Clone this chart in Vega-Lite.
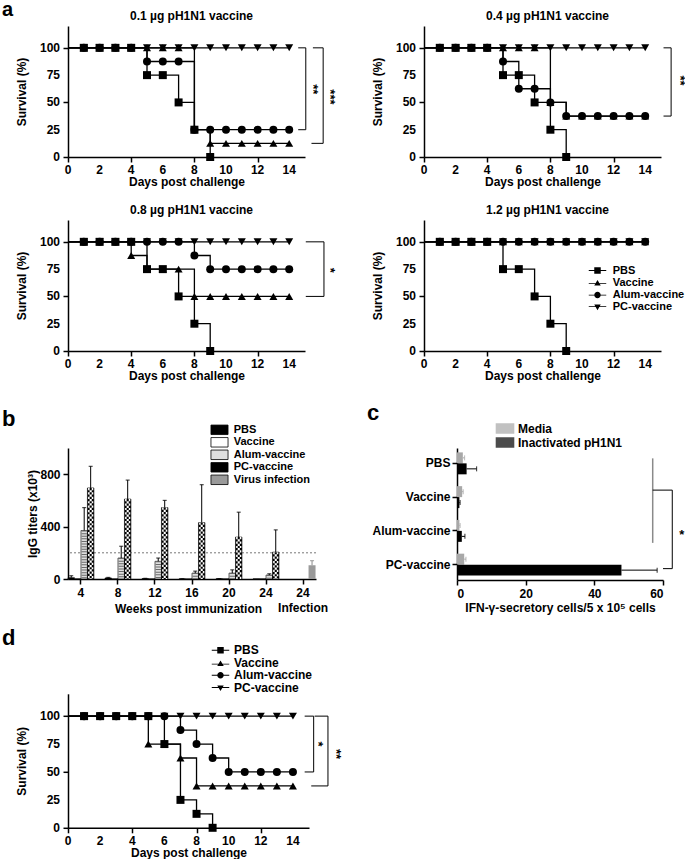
{
"$schema":"https://vega.github.io/schema/vega-lite/v6.json",
"padding":{"left":2,"top":0,"right":0,"bottom":0},
"background":"white",
"config":{
 "font":"Liberation Sans",
 "view":{"stroke":null},
 "axis":{"grid":false,"domainColor":"black","domainWidth":1.5,"tickColor":"black","tickWidth":1.5,"tickSize":5,"labelColor":"black","labelFontSize":12,"labelFontWeight":"bold","labelPadding":3,"labelOverlap":false,"titleColor":"black","titleFontSize":12,"titleFontWeight":"bold","labelFont":"Liberation Sans","titleFont":"Liberation Sans"},
 "title":{"fontSize":12,"fontWeight":"bold","color":"black","font":"Liberation Sans"},
 "legend":{"labelFontSize":11,"labelFontWeight":"bold","labelColor":"black","labelFont":"Liberation Sans","padding":0,"labelBaseline":"middle"}
},
"datasets":{
 "surv":[
  {"p":"a1","g":"PC-vaccine","d":[0,1,2,3,4,5,6,7,8,9,10,11,12,13,14],"s":[100,100,100,100,100,100,100,100,100,100,100,100,100,100,100]},
  {"p":"a1","g":"Alum-vaccine","d":[0,1,2,3,4,5,6,7,8,9,10,11,12,13,14],"s":[100,100,100,100,100,87.5,87.5,87.5,25,25,25,25,25,25,25]},
  {"p":"a1","g":"Vaccine","d":[0,1,2,3,4,5,6,7,8,9,10,11,12,13,14],"s":[100,100,100,100,100,100,100,100,25,12.5,12.5,12.5,12.5,12.5,12.5]},
  {"p":"a1","g":"PBS","d":[0,1,2,3,4,5,6,7,8,9],"s":[100,100,100,100,100,75,75,50,25,0]},
  {"p":"a2","g":"PC-vaccine","d":[0,1,2,3,4,5,6,7,8,9,10,11,12,13,14],"s":[100,100,100,100,100,100,100,100,100,100,100,100,100,100,100]},
  {"p":"a2","g":"Alum-vaccine","d":[0,1,2,3,4,5,6,7,8,9,10,11,12,13,14],"s":[100,100,100,100,100,87.5,62.5,62.5,50,37.5,37.5,37.5,37.5,37.5,37.5]},
  {"p":"a2","g":"Vaccine","d":[0,1,2,3,4,5,6,7,8,9,10,11,12,13,14],"s":[100,100,100,100,100,100,100,100,50,37.5,37.5,37.5,37.5,37.5,37.5]},
  {"p":"a2","g":"PBS","d":[0,1,2,3,4,5,6,7,8,9],"s":[100,100,100,100,100,75,75,50,25,0]},
  {"p":"a3","g":"PC-vaccine","d":[0,1,2,3,4,5,6,7,8,9,10,11,12,13,14],"s":[100,100,100,100,100,100,100,100,100,100,100,100,100,100,100]},
  {"p":"a3","g":"Alum-vaccine","d":[0,1,2,3,4,5,6,7,8,9,10,11,12,13,14],"s":[100,100,100,100,100,100,100,100,87.5,75,75,75,75,75,75]},
  {"p":"a3","g":"Vaccine","d":[0,1,2,3,4,5,6,7,8,9,10,11,12,13,14],"s":[100,100,100,100,87.5,75,75,75,50,50,50,50,50,50,50]},
  {"p":"a3","g":"PBS","d":[0,1,2,3,4,5,6,7,8,9],"s":[100,100,100,100,100,75,75,50,25,0]},
  {"p":"a4","g":"PC-vaccine","d":[0,1,2,3,4,5,6,7,8,9,10,11,12,13,14],"s":[100,100,100,100,100,100,100,100,100,100,100,100,100,100,100]},
  {"p":"a4","g":"Alum-vaccine","d":[0,1,2,3,4,5,6,7,8,9,10,11,12,13,14],"s":[100,100,100,100,100,100,100,100,100,100,100,100,100,100,100]},
  {"p":"a4","g":"Vaccine","d":[0,1,2,3,4,5,6,7,8,9,10,11,12,13,14],"s":[100,100,100,100,100,100,100,100,100,100,100,100,100,100,100]},
  {"p":"a4","g":"PBS","d":[0,1,2,3,4,5,6,7,8,9],"s":[100,100,100,100,100,75,75,50,25,0]},
  {"p":"d","g":"PC-vaccine","d":[0,1,2,3,4,5,6,7,8,9,10,11,12,13,14],"s":[100,100,100,100,100,100,100,100,100,100,100,100,100,100,100]},
  {"p":"d","g":"Alum-vaccine","d":[0,1,2,3,4,5,6,7,8,9,10,11,12,13,14],"s":[100,100,100,100,100,100,100,87.5,75,62.5,50,50,50,50,50]},
  {"p":"d","g":"Vaccine","d":[0,1,2,3,4,5,6,7,8,9,10,11,12,13,14],"s":[100,100,100,100,100,75,75,62.5,37.5,37.5,37.5,37.5,37.5,37.5,37.5]},
  {"p":"d","g":"PBS","d":[0,1,2,3,4,5,6,7,8,9],"s":[100,100,100,100,100,100,75,25,12.5,0]}
 ],
 "br":[
  {"p":"a1","x1":14.57,"x2":15.05,"y1":100,"y2":100},
  {"p":"a1","x1":15.05,"x2":15.05,"y1":100,"y2":25},
  {"p":"a1","x1":14.57,"x2":15.05,"y1":25,"y2":25},
  {"p":"a1","x1":15.5,"x2":16.15,"y1":100,"y2":100},
  {"p":"a1","x1":16.15,"x2":16.15,"y1":100,"y2":12.5},
  {"p":"a1","x1":15.41,"x2":16.15,"y1":12.5,"y2":12.5},
  {"p":"a2","x1":15.16,"x2":15.64,"y1":100,"y2":100},
  {"p":"a2","x1":15.64,"x2":15.64,"y1":100,"y2":37.5},
  {"p":"a2","x1":15.16,"x2":15.64,"y1":37.5,"y2":37.5},
  {"p":"a3","x1":15.05,"x2":16.2,"y1":100,"y2":100},
  {"p":"a3","x1":16.2,"x2":16.2,"y1":100,"y2":50},
  {"p":"a3","x1":15.05,"x2":16.2,"y1":50,"y2":50},
  {"p":"d","x1":14.73,"x2":15.29,"y1":100,"y2":100},
  {"p":"d","x1":15.29,"x2":15.29,"y1":100,"y2":50},
  {"p":"d","x1":14.73,"x2":15.29,"y1":50,"y2":50},
  {"p":"d","x1":15.35,"x2":16.18,"y1":100,"y2":100},
  {"p":"d","x1":16.18,"x2":16.18,"y1":100,"y2":37.5},
  {"p":"d","x1":15.14,"x2":16.18,"y1":37.5,"y2":37.5}
 ],
 "st":[
  {"p":"a1","x":15.52,"y":62,"t":"**"},
  {"p":"a1","x":16.6,"y":55,"t":"***"},
  {"p":"a2","x":16.2,"y":70,"t":"**"},
  {"p":"a3","x":16.57,"y":74,"t":"*"},
  {"p":"d","x":15.56,"y":75,"t":"*"},
  {"p":"d","x":16.7,"y":66,"t":"**"}
 ],
 "xt":[{"t":0},{"t":2},{"t":4},{"t":6},{"t":8},{"t":10},{"t":12},{"t":14}],
 "yt":[{"t":0},{"t":25},{"t":50},{"t":75},{"t":100}],
 "bt":[
  {"w":"4","g":"PBS","v":10,"hi":25},{"w":"4","g":"Vaccine","v":2,"hi":2},{"w":"4","g":"Alum-vaccine","v":370,"hi":545},{"w":"4","g":"PC-vaccine","v":695,"hi":860},
  {"w":"8","g":"PBS","v":8,"hi":12},{"w":"8","g":"Vaccine","v":1,"hi":1},{"w":"8","g":"Alum-vaccine","v":160,"hi":250},{"w":"8","g":"PC-vaccine","v":610,"hi":755},
  {"w":"12","g":"PBS","v":3,"hi":5},{"w":"12","g":"Vaccine","v":1,"hi":1},{"w":"12","g":"Alum-vaccine","v":135,"hi":160},{"w":"12","g":"PC-vaccine","v":545,"hi":600},
  {"w":"16","g":"PBS","v":1,"hi":2},{"w":"16","g":"Vaccine","v":0,"hi":0},{"w":"16","g":"Alum-vaccine","v":45,"hi":60},{"w":"16","g":"PC-vaccine","v":430,"hi":720},
  {"w":"20","g":"PBS","v":2,"hi":3},{"w":"20","g":"Vaccine","v":1,"hi":1},{"w":"20","g":"Alum-vaccine","v":45,"hi":70},{"w":"20","g":"PC-vaccine","v":320,"hi":510},
  {"w":"24","g":"PBS","v":1,"hi":1},{"w":"24","g":"Vaccine","v":1,"hi":1},{"w":"24","g":"Alum-vaccine","v":30,"hi":40},{"w":"24","g":"PC-vaccine","v":205,"hi":375},
  {"w":"inf","g":"Virus infection","v":105,"hi":140}
 ],
 "ct":[
  {"g":"PBS","s":"Media","v":1.7,"hi":2.2},{"g":"PBS","s":"Inactivated pH1N1","v":2.8,"hi":5.7},
  {"g":"Vaccine","s":"Media","v":1.5,"hi":1.8},{"g":"Vaccine","s":"Inactivated pH1N1","v":0.7,"hi":0.9},
  {"g":"Alum-vaccine","s":"Media","v":0.7,"hi":0.9},{"g":"Alum-vaccine","s":"Inactivated pH1N1","v":1.4,"hi":2.3},
  {"g":"PC-vaccine","s":"Media","v":2.1,"hi":2.6},{"g":"PC-vaccine","s":"Inactivated pH1N1","v":47.9,"hi":58.3}
 ]
},
"bounds":"full",
"spacing":19,
"resolve":{"scale":{"fill":"independent","color":"independent","shape":"independent"}},
"vconcat":[
 {"bounds":"flush","columns":2,"spacing":{"row":63,"column":119},
  "resolve":{"scale":{"fill":"independent","color":"independent","shape":"independent"}},
  "title":{"text":"a","anchor":"start","frame":"group","dx":-66,"fontSize":20,"offset":-26.4,"baseline":"alphabetic"},
  "concat":[
   {"width":237,"height":131,
    "title":{"text":"0.1 µg pH1N1 vaccine","anchor":"middle","frame":"group","dx":5,"offset":3},
    "layer":[
     {"data":{"name":"surv"},"transform":[{"filter":"datum.p=='a1'"},{"flatten":["d","s"]}],
      "mark":{"type":"line","interpolate":"step-after","color":"black","strokeWidth":1.3},
      "encoding":{"x":{"field":"d","type":"quantitative","scale":{"domain":[0,15]},"axis":{"values":[0,2,4,6,8,10,12,14],"labels":false,"title":"Days post challenge","titlePadding":14}},
       "y":{"field":"s","type":"quantitative","scale":{"domain":[0,120]},"axis":{"values":[0,25,50,75,100],"labels":false,"title":"Survival (%)","titlePadding":34}},
       "detail":{"field":"g","type":"nominal"}}},
     {"data":{"name":"xt"},"mark":{"type":"text","color":"black","fontWeight":"bold","fontSize":12,"align":"center","baseline":"top","dy":8},
      "encoding":{"x":{"field":"t","type":"quantitative","scale":{"domain":[0,15]}},"y":{"datum":0,"type":"quantitative","scale":{"domain":[0,120]}},"text":{"field":"t","type":"quantitative"}}},
     {"data":{"name":"yt"},"mark":{"type":"text","color":"black","fontWeight":"bold","fontSize":12,"align":"right","baseline":"middle","dx":-8},
      "encoding":{"y":{"field":"t","type":"quantitative","scale":{"domain":[0,120]}},"x":{"datum":0,"type":"quantitative","scale":{"domain":[0,15]}},"text":{"field":"t","type":"quantitative"}}},
     {"data":{"name":"surv"},"transform":[{"filter":"datum.p=='a1'"},{"flatten":["d","s"]},{"filter":"datum.d>=1"}],
      "mark":{"type":"point","filled":true,"color":"black","size":64,"opacity":1},
      "encoding":{"x":{"field":"d","type":"quantitative","scale":{"domain":[0,15]}},"y":{"field":"s","type":"quantitative","scale":{"domain":[0,120]}},
       "shape":{"field":"g","type":"nominal","scale":{"domain":["PBS","Vaccine","Alum-vaccine","PC-vaccine"],"range":["square","triangle-up","circle","triangle-down"]},"legend":null}}},
     {"data":{"name":"br"},"transform":[{"filter":"datum.p=='a1'"}],"mark":{"type":"rule","color":"black","strokeWidth":1},
      "encoding":{"x":{"field":"x1","type":"quantitative","scale":{"domain":[0,15]}},"x2":{"field":"x2"},"y":{"field":"y1","type":"quantitative","scale":{"domain":[0,120]}},"y2":{"field":"y2"}}},
     {"data":{"name":"st"},"transform":[{"filter":"datum.p=='a1'"}],"mark":{"type":"text","color":"black","angle":90,"fontWeight":"bold","fontSize":13,"align":"center","baseline":"middle"},
      "encoding":{"x":{"field":"x","type":"quantitative","scale":{"domain":[0,15]}},"y":{"field":"y","type":"quantitative","scale":{"domain":[0,120]}},"text":{"field":"t","type":"nominal"}}}
    ]},
   {"width":237,"height":131,
    "title":{"text":"0.4 µg pH1N1 vaccine","anchor":"middle","frame":"group","dx":5,"offset":3},
    "layer":[
     {"data":{"name":"surv"},"transform":[{"filter":"datum.p=='a2'"},{"flatten":["d","s"]}],
      "mark":{"type":"line","interpolate":"step-after","color":"black","strokeWidth":1.3},
      "encoding":{"x":{"field":"d","type":"quantitative","scale":{"domain":[0,15]},"axis":{"values":[0,2,4,6,8,10,12,14],"labels":false,"title":"Days post challenge","titlePadding":14}},
       "y":{"field":"s","type":"quantitative","scale":{"domain":[0,120]},"axis":{"values":[0,25,50,75,100],"labels":false,"title":"Survival (%)","titlePadding":34}},
       "detail":{"field":"g","type":"nominal"}}},
     {"data":{"name":"xt"},"mark":{"type":"text","color":"black","fontWeight":"bold","fontSize":12,"align":"center","baseline":"top","dy":8},
      "encoding":{"x":{"field":"t","type":"quantitative","scale":{"domain":[0,15]}},"y":{"datum":0,"type":"quantitative","scale":{"domain":[0,120]}},"text":{"field":"t","type":"quantitative"}}},
     {"data":{"name":"yt"},"mark":{"type":"text","color":"black","fontWeight":"bold","fontSize":12,"align":"right","baseline":"middle","dx":-8},
      "encoding":{"y":{"field":"t","type":"quantitative","scale":{"domain":[0,120]}},"x":{"datum":0,"type":"quantitative","scale":{"domain":[0,15]}},"text":{"field":"t","type":"quantitative"}}},
     {"data":{"name":"surv"},"transform":[{"filter":"datum.p=='a2'"},{"flatten":["d","s"]},{"filter":"datum.d>=1"}],
      "mark":{"type":"point","filled":true,"color":"black","size":64,"opacity":1},
      "encoding":{"x":{"field":"d","type":"quantitative","scale":{"domain":[0,15]}},"y":{"field":"s","type":"quantitative","scale":{"domain":[0,120]}},
       "shape":{"field":"g","type":"nominal","scale":{"domain":["PBS","Vaccine","Alum-vaccine","PC-vaccine"],"range":["square","triangle-up","circle","triangle-down"]},"legend":null}}},
     {"data":{"name":"br"},"transform":[{"filter":"datum.p=='a2'"}],"mark":{"type":"rule","color":"black","strokeWidth":1},
      "encoding":{"x":{"field":"x1","type":"quantitative","scale":{"domain":[0,15]}},"x2":{"field":"x2"},"y":{"field":"y1","type":"quantitative","scale":{"domain":[0,120]}},"y2":{"field":"y2"}}},
     {"data":{"name":"st"},"transform":[{"filter":"datum.p=='a2'"}],"mark":{"type":"text","color":"black","angle":90,"fontWeight":"bold","fontSize":13,"align":"center","baseline":"middle"},
      "encoding":{"x":{"field":"x","type":"quantitative","scale":{"domain":[0,15]}},"y":{"field":"y","type":"quantitative","scale":{"domain":[0,120]}},"text":{"field":"t","type":"nominal"}}}
    ]},
   {"width":237,"height":131,
    "title":{"text":"0.8 µg pH1N1 vaccine","anchor":"middle","frame":"group","dx":5,"offset":3},
    "layer":[
     {"data":{"name":"surv"},"transform":[{"filter":"datum.p=='a3'"},{"flatten":["d","s"]}],
      "mark":{"type":"line","interpolate":"step-after","color":"black","strokeWidth":1.3},
      "encoding":{"x":{"field":"d","type":"quantitative","scale":{"domain":[0,15]},"axis":{"values":[0,2,4,6,8,10,12,14],"labels":false,"title":"Days post challenge","titlePadding":14}},
       "y":{"field":"s","type":"quantitative","scale":{"domain":[0,120]},"axis":{"values":[0,25,50,75,100],"labels":false,"title":"Survival (%)","titlePadding":34}},
       "detail":{"field":"g","type":"nominal"}}},
     {"data":{"name":"xt"},"mark":{"type":"text","color":"black","fontWeight":"bold","fontSize":12,"align":"center","baseline":"top","dy":8},
      "encoding":{"x":{"field":"t","type":"quantitative","scale":{"domain":[0,15]}},"y":{"datum":0,"type":"quantitative","scale":{"domain":[0,120]}},"text":{"field":"t","type":"quantitative"}}},
     {"data":{"name":"yt"},"mark":{"type":"text","color":"black","fontWeight":"bold","fontSize":12,"align":"right","baseline":"middle","dx":-8},
      "encoding":{"y":{"field":"t","type":"quantitative","scale":{"domain":[0,120]}},"x":{"datum":0,"type":"quantitative","scale":{"domain":[0,15]}},"text":{"field":"t","type":"quantitative"}}},
     {"data":{"name":"surv"},"transform":[{"filter":"datum.p=='a3'"},{"flatten":["d","s"]},{"filter":"datum.d>=1"}],
      "mark":{"type":"point","filled":true,"color":"black","size":64,"opacity":1},
      "encoding":{"x":{"field":"d","type":"quantitative","scale":{"domain":[0,15]}},"y":{"field":"s","type":"quantitative","scale":{"domain":[0,120]}},
       "shape":{"field":"g","type":"nominal","scale":{"domain":["PBS","Vaccine","Alum-vaccine","PC-vaccine"],"range":["square","triangle-up","circle","triangle-down"]},"legend":null}}},
     {"data":{"name":"br"},"transform":[{"filter":"datum.p=='a3'"}],"mark":{"type":"rule","color":"black","strokeWidth":1},
      "encoding":{"x":{"field":"x1","type":"quantitative","scale":{"domain":[0,15]}},"x2":{"field":"x2"},"y":{"field":"y1","type":"quantitative","scale":{"domain":[0,120]}},"y2":{"field":"y2"}}},
     {"data":{"name":"st"},"transform":[{"filter":"datum.p=='a3'"}],"mark":{"type":"text","color":"black","angle":90,"fontWeight":"bold","fontSize":13,"align":"center","baseline":"middle"},
      "encoding":{"x":{"field":"x","type":"quantitative","scale":{"domain":[0,15]}},"y":{"field":"y","type":"quantitative","scale":{"domain":[0,120]}},"text":{"field":"t","type":"nominal"}}}
    ]},
   {"width":237,"height":131,
    "title":{"text":"1.2 µg pH1N1 vaccine","anchor":"middle","frame":"group","dx":5,"offset":3},
    "resolve":{"scale":{"shape":"independent"}},
    "layer":[
     {"data":{"name":"surv"},"transform":[{"filter":"datum.p=='a4'"},{"flatten":["d","s"]}],
      "mark":{"type":"line","interpolate":"step-after","color":"black","strokeWidth":1.3},
      "encoding":{"x":{"field":"d","type":"quantitative","scale":{"domain":[0,15]},"axis":{"values":[0,2,4,6,8,10,12,14],"labels":false,"title":"Days post challenge","titlePadding":14}},
       "y":{"field":"s","type":"quantitative","scale":{"domain":[0,120]},"axis":{"values":[0,25,50,75,100],"labels":false,"title":"Survival (%)","titlePadding":34}},
       "detail":{"field":"g","type":"nominal"}}},
     {"data":{"name":"xt"},"mark":{"type":"text","color":"black","fontWeight":"bold","fontSize":12,"align":"center","baseline":"top","dy":8},
      "encoding":{"x":{"field":"t","type":"quantitative","scale":{"domain":[0,15]}},"y":{"datum":0,"type":"quantitative","scale":{"domain":[0,120]}},"text":{"field":"t","type":"quantitative"}}},
     {"data":{"name":"yt"},"mark":{"type":"text","color":"black","fontWeight":"bold","fontSize":12,"align":"right","baseline":"middle","dx":-8},
      "encoding":{"y":{"field":"t","type":"quantitative","scale":{"domain":[0,120]}},"x":{"datum":0,"type":"quantitative","scale":{"domain":[0,15]}},"text":{"field":"t","type":"quantitative"}}},
     {"data":{"name":"surv"},"transform":[{"filter":"datum.p=='a4'"},{"flatten":["d","s"]},{"filter":"datum.d>=1"}],
      "mark":{"type":"point","filled":true,"color":"black","size":64,"opacity":1},
      "encoding":{"x":{"field":"d","type":"quantitative","scale":{"domain":[0,15]}},"y":{"field":"s","type":"quantitative","scale":{"domain":[0,120]}},
       "shape":{"field":"g","type":"nominal","scale":{"domain":["PBS","Vaccine","Alum-vaccine","PC-vaccine"],"range":["square","triangle-up","circle","triangle-down"]},"legend":null}}},
     {"data":{"name":"surv"},"transform":[{"filter":"false"}],
      "mark":{"type":"point","filled":true,"color":"black","opacity":1},
      "encoding":{"x":{"field":"d","type":"quantitative","scale":{"domain":[0,15]}},"y":{"field":"s","type":"quantitative","scale":{"domain":[0,120]}},
       "shape":{"field":"g","type":"nominal","scale":{"domain":["PBS","Vaccine","Alum-vaccine","PC-vaccine"],"range":["M-2.7,-0.14H2.7V0.14H-2.7ZM-1,-1H1V1H-1Z","M-2.7,0.11H2.7V0.39H-2.7ZM0,-0.87L1,0.87H-1Z","M-2.7,-0.14H2.7V0.14H-2.7ZM1,0A1,1,0,1,1,-1,0A1,1,0,1,1,1,0Z","M-2.7,-0.39H2.7V-0.11H-2.7ZM0,0.87L-1,-0.87H1Z"]},
        "legend":{"orient":"none","legendX":168,"legendY":45,"title":null,"symbolSize":42,"labelOffset":9.7,"rowPadding":-0.7,"labelFontSize":11,"symbolFillColor":"black"}}}}
    ]}
  ]},
 {"bounds":"full","spacing":12.8,
  "resolve":{"scale":{"fill":"independent","color":"independent","shape":"independent"}},
  "vconcat":[
   {"bounds":"flush","spacing":141,
    "resolve":{"scale":{"fill":"independent","color":"independent","shape":"independent"}},
    "hconcat":[
     {"width":248,"height":131,
      "title":{"text":"b","anchor":"start","frame":"group","dx":-66,"fontSize":22,"offset":-23.5,"baseline":"alphabetic"},
      "data":{"name":"bt"},
      "layer":[
       {"data":{"values":[{}]},"mark":{"type":"rule","color":"#555555","strokeWidth":0.8,"strokeDash":[2,2]},
        "encoding":{"y":{"datum":200,"type":"quantitative","scale":{"domain":[0,1000]},"axis":{"values":[0,200,400,600,800,1000],"labelOverlap":false,"format":",d","title":"IgG titers (x10³)","titlePadding":0}}}},
       {"transform":[{"filter":"datum.g != 'Virus infection'"}],
        "mark":{"type":"bar","stroke":"black","strokeWidth":0.6},
        "encoding":{
         "x":{"field":"w","type":"nominal","sort":["4","8","12","16","20","24","inf"],"scale":{"domain":["4","8","12","16","20","24","inf"],"paddingInner":0.3,"paddingOuter":0},
              "axis":{"title":"Weeks post immunization","labelAngle":0,"labelOverlap":false,"labelExpr":"datum.value == 'inf' ? ['24', 'Infection'] : datum.value","labelLineHeight":15,"titleX":120,"titleY":29,"titleBaseline":"middle"}},
         "xOffset":{"field":"g","type":"nominal","scale":{"domain":["PBS","Vaccine","Alum-vaccine","PC-vaccine"],"paddingInner":0,"paddingOuter":0}},
         "y":{"field":"v","type":"quantitative","scale":{"domain":[0,1000]},"axis":{"values":[0,200,400,600,800,1000],"labelOverlap":false,"format":",d","title":"IgG titers (x10³)","titlePadding":0}},
         "fill":{"field":"g","type":"nominal","scale":{"domain":["PBS","Vaccine","Alum-vaccine","PC-vaccine","Virus infection"],"range":["black","white","#dedede","black","#9a9a9a"]},
          "legend":{"orient":"none","legendX":146,"legendY":-23.7,"title":null,"symbolType":"M-1.8,-1H1.8V1H-1.8Z","symbolSize":90,"labelOffset":8.75,"rowPadding":-0.5,"labelFontSize":11,"symbolStrokeWidth":0.8,"symbolStrokeColor":"black"}}}},
       {"transform":[{"filter":"datum.g == 'Alum-vaccine'"}],
        "mark":{"type":"rule","color":"#6a6a6a","strokeWidth":5.4,"strokeDash":[1,1.6]},
        "encoding":{"x":{"field":"w","type":"nominal","sort":["4","8","12","16","20","24","inf"]},"xOffset":{"field":"g","type":"nominal"},"y":{"field":"v","type":"quantitative"},"y2":{"datum":0}}},
       {"transform":[{"filter":"datum.g == 'PC-vaccine'"}],
        "mark":{"type":"rule","color":"white","strokeWidth":5.2,"strokeDash":[2.2,2.2]},
        "encoding":{"x":{"field":"w","type":"nominal","sort":["4","8","12","16","20","24","inf"]},"xOffset":{"field":"g","type":"nominal"},"y":{"field":"v","type":"quantitative"},"y2":{"datum":0}}},
       {"transform":[{"filter":"datum.g == 'PC-vaccine'"}],
        "mark":{"type":"rule","color":"white","strokeWidth":2.1},
        "encoding":{"x":{"field":"w","type":"nominal","sort":["4","8","12","16","20","24","inf"]},"xOffset":{"field":"g","type":"nominal"},"y":{"field":"v","type":"quantitative"},"y2":{"datum":0}}},
       {"transform":[{"filter":"datum.g == 'PC-vaccine'"}],
        "mark":{"type":"rule","color":"black","strokeWidth":2.1,"strokeDash":[2.2,2.2]},
        "encoding":{"x":{"field":"w","type":"nominal","sort":["4","8","12","16","20","24","inf"]},"xOffset":{"field":"g","type":"nominal"},"y":{"field":"v","type":"quantitative"},"y2":{"datum":0}}},
       {"transform":[{"filter":"datum.g != 'Virus infection' && datum.hi > datum.v"}],
        "mark":{"type":"rule","color":"black","strokeWidth":1},
        "encoding":{"x":{"field":"w","type":"nominal","sort":["4","8","12","16","20","24","inf"]},"xOffset":{"field":"g","type":"nominal"},"y":{"field":"v","type":"quantitative"},"y2":{"field":"hi"}}},
       {"transform":[{"filter":"datum.g != 'Virus infection' && datum.hi > datum.v"}],
        "mark":{"type":"tick","color":"black","size":4,"thickness":1.2},
        "encoding":{"x":{"field":"w","type":"nominal","sort":["4","8","12","16","20","24","inf"]},"xOffset":{"field":"g","type":"nominal"},"y":{"field":"hi","type":"quantitative"}}},
       {"transform":[{"filter":"datum.g == 'Virus infection'"}],
        "mark":{"type":"bar","size":7,"xOffset":9,"strokeWidth":0},
        "encoding":{"x":{"field":"w","type":"nominal","sort":["4","8","12","16","20","24","inf"]},"y":{"field":"v","type":"quantitative"},
         "fill":{"field":"g","type":"nominal"}}},
       {"transform":[{"filter":"datum.g == 'Virus infection'"}],
        "mark":{"type":"rule","color":"#8a8a8a","strokeWidth":1,"xOffset":9},
        "encoding":{"x":{"field":"w","type":"nominal","sort":["4","8","12","16","20","24","inf"]},"y":{"field":"v","type":"quantitative"},"y2":{"field":"hi"}}},
       {"transform":[{"filter":"datum.g == 'Virus infection'"}],
        "mark":{"type":"tick","color":"#8a8a8a","size":4,"thickness":1.2,"xOffset":9},
        "encoding":{"x":{"field":"w","type":"nominal","sort":["4","8","12","16","20","24","inf"]},"y":{"field":"hi","type":"quantitative"}}}
      ]},
     {"width":206,"height":132,
      "title":{"text":"c","anchor":"start","frame":"group","dx":-90,"fontSize":22,"offset":-19,"baseline":"alphabetic"},
      "layer":[
       {"data":{"name":"ct"},"mark":{"type":"bar"},
        "encoding":{
         "y":{"field":"g","type":"nominal","sort":["PBS","Vaccine","Alum-vaccine","PC-vaccine"],"scale":{"domain":["PBS","Vaccine","Alum-vaccine","PC-vaccine"],"paddingInner":0.35,"paddingOuter":0.13},"axis":{"title":null,"labelPadding":2}},
         "yOffset":{"field":"s","type":"nominal","scale":{"domain":["Media","Inactivated pH1N1"],"paddingInner":0,"paddingOuter":0}},
         "x":{"field":"v","type":"quantitative","scale":{"domain":[0,60]},"axis":{"values":[0,20,40,60],"labelOverlap":false,"title":"IFN-γ-secretory cells/5 x 10⁵ cells","titlePadding":3}},
         "color":{"field":"s","type":"nominal","scale":{"domain":["Media","Inactivated pH1N1"],"range":["#a8a8a8","black"]},
          "legend":{"orient":"none","legendX":42,"legendY":-25.5,"title":null,"symbolType":"M-1.9,-1H1.9V1H-1.9Z","symbolSize":81,"labelOffset":7,"rowPadding":-4,"labelFontSize":12}}}},
       {"data":{"name":"ct"},"mark":{"type":"rule","strokeWidth":1},
        "encoding":{"y":{"field":"g","type":"nominal","sort":["PBS","Vaccine","Alum-vaccine","PC-vaccine"]},"yOffset":{"field":"s","type":"nominal"},"x":{"field":"v","type":"quantitative","scale":{"domain":[0,60]}},"x2":{"field":"hi"},
         "color":{"field":"s","type":"nominal","legend":{"orient":"none","legendX":42,"legendY":-25.5,"title":null,"symbolType":"M-1.9,-1H1.9V1H-1.9Z","symbolSize":81,"labelOffset":7,"rowPadding":-4,"labelFontSize":12}}}},
       {"data":{"name":"ct"},"mark":{"type":"tick","size":5,"thickness":1.2},
        "encoding":{"y":{"field":"g","type":"nominal","sort":["PBS","Vaccine","Alum-vaccine","PC-vaccine"]},"yOffset":{"field":"s","type":"nominal"},"x":{"field":"hi","type":"quantitative","scale":{"domain":[0,60]}},
         "color":{"field":"s","type":"nominal","legend":{"orient":"none","legendX":42,"legendY":-25.5,"title":null,"symbolType":"M-1.9,-1H1.9V1H-1.9Z","symbolSize":81,"labelOffset":7,"rowPadding":-4,"labelFontSize":12}}}},
       {"data":{"values":[{}]},"mark":{"type":"rule","color":"#8a8a8a","strokeWidth":1.5,"yOffset":-5,"y2Offset":12},
        "encoding":{"x":{"datum":57,"type":"quantitative","scale":{"domain":[0,60]}},"y":{"datum":"PBS","type":"nominal"},"y2":{"datum":"Alum-vaccine"}}},
       {"data":{"values":[{}]},"mark":{"type":"rule","color":"black","strokeWidth":1,"yOffset":-7},
        "encoding":{"x":{"datum":57,"type":"quantitative","scale":{"domain":[0,60]}},"x2":{"datum":62.7},"y":{"datum":"Vaccine","type":"nominal"}}},
       {"data":{"values":[{}]},"mark":{"type":"rule","color":"black","strokeWidth":1,"yOffset":-7,"y2Offset":4},
        "encoding":{"x":{"datum":62.7,"type":"quantitative","scale":{"domain":[0,60]}},"y":{"datum":"Vaccine","type":"nominal"},"y2":{"datum":"PC-vaccine"}}},
       {"data":{"values":[{}]},"mark":{"type":"rule","color":"black","strokeWidth":1,"yOffset":4},
        "encoding":{"x":{"datum":60,"type":"quantitative","scale":{"domain":[0,60]}},"x2":{"datum":62.7},"y":{"datum":"PC-vaccine","type":"nominal"}}},
       {"data":{"values":[{}]},"mark":{"type":"text","color":"black","fontWeight":"bold","fontSize":13,"align":"center","baseline":"middle","yOffset":4},
        "encoding":{"x":{"datum":65.5,"type":"quantitative","scale":{"domain":[0,60]}},"y":{"datum":"Alum-vaccine","type":"nominal"},"text":{"value":"*"}}}
      ]}
    ]},
   {"width":241,"height":134,
    "title":{"text":"d","anchor":"start","frame":"group","dx":-66,"fontSize":22,"offset":-23,"baseline":"alphabetic"},
    "resolve":{"scale":{"shape":"independent"}},
    "layer":[
     {"data":{"name":"surv"},"transform":[{"filter":"datum.p=='d'"},{"flatten":["d","s"]}],
      "mark":{"type":"line","interpolate":"step-after","color":"black","strokeWidth":1.3},
      "encoding":{"x":{"field":"d","type":"quantitative","scale":{"domain":[0,15]},"axis":{"values":[0,2,4,6,8,10,12,14],"labels":false,"title":"Days post challenge","titlePadding":14}},
       "y":{"field":"s","type":"quantitative","scale":{"domain":[0,120]},"axis":{"values":[0,25,50,75,100],"labels":false,"title":"Survival (%)","titlePadding":34}},
       "detail":{"field":"g","type":"nominal"}}},
     {"data":{"name":"xt"},"mark":{"type":"text","color":"black","fontWeight":"bold","fontSize":12,"align":"center","baseline":"top","dy":8},
      "encoding":{"x":{"field":"t","type":"quantitative","scale":{"domain":[0,15]}},"y":{"datum":0,"type":"quantitative","scale":{"domain":[0,120]}},"text":{"field":"t","type":"quantitative"}}},
     {"data":{"name":"yt"},"mark":{"type":"text","color":"black","fontWeight":"bold","fontSize":12,"align":"right","baseline":"middle","dx":-8},
      "encoding":{"y":{"field":"t","type":"quantitative","scale":{"domain":[0,120]}},"x":{"datum":0,"type":"quantitative","scale":{"domain":[0,15]}},"text":{"field":"t","type":"quantitative"}}},
     {"data":{"name":"surv"},"transform":[{"filter":"datum.p=='d'"},{"flatten":["d","s"]},{"filter":"datum.d>=1"}],
      "mark":{"type":"point","filled":true,"color":"black","size":64,"opacity":1},
      "encoding":{"x":{"field":"d","type":"quantitative","scale":{"domain":[0,15]}},"y":{"field":"s","type":"quantitative","scale":{"domain":[0,120]}},
       "shape":{"field":"g","type":"nominal","scale":{"domain":["PBS","Vaccine","Alum-vaccine","PC-vaccine"],"range":["square","triangle-up","circle","triangle-down"]},"legend":null}}},
     {"data":{"name":"surv"},"transform":[{"filter":"false"}],
      "mark":{"type":"point","filled":true,"color":"black","opacity":1},
      "encoding":{"x":{"field":"d","type":"quantitative","scale":{"domain":[0,15]}},"y":{"field":"s","type":"quantitative","scale":{"domain":[0,120]}},
       "shape":{"field":"g","type":"nominal","scale":{"domain":["PBS","Vaccine","Alum-vaccine","PC-vaccine"],"range":["M-2.7,-0.14H2.7V0.14H-2.7ZM-1,-1H1V1H-1Z","M-2.7,0.11H2.7V0.39H-2.7ZM0,-0.87L1,0.87H-1Z","M-2.7,-0.14H2.7V0.14H-2.7ZM1,0A1,1,0,1,1,-1,0A1,1,0,1,1,1,0Z","M-2.7,-0.39H2.7V-0.11H-2.7ZM0,0.87L-1,-0.87H1Z"]},
        "legend":{"orient":"none","legendX":146.5,"legendY":-49.5,"title":null,"symbolSize":42,"labelOffset":7.5,"rowPadding":-1.9,"labelFontSize":12,"symbolFillColor":"black"}}}},
     {"data":{"name":"br"},"transform":[{"filter":"datum.p=='d'"}],"mark":{"type":"rule","color":"black","strokeWidth":1},
      "encoding":{"x":{"field":"x1","type":"quantitative","scale":{"domain":[0,15]}},"x2":{"field":"x2"},"y":{"field":"y1","type":"quantitative","scale":{"domain":[0,120]}},"y2":{"field":"y2"}}},
     {"data":{"name":"st"},"transform":[{"filter":"datum.p=='d'"}],"mark":{"type":"text","color":"black","angle":90,"fontWeight":"bold","fontSize":13,"align":"center","baseline":"middle"},
      "encoding":{"x":{"field":"x","type":"quantitative","scale":{"domain":[0,15]}},"y":{"field":"y","type":"quantitative","scale":{"domain":[0,120]}},"text":{"field":"t","type":"nominal"}}}
    ]}
  ]}
]
}
